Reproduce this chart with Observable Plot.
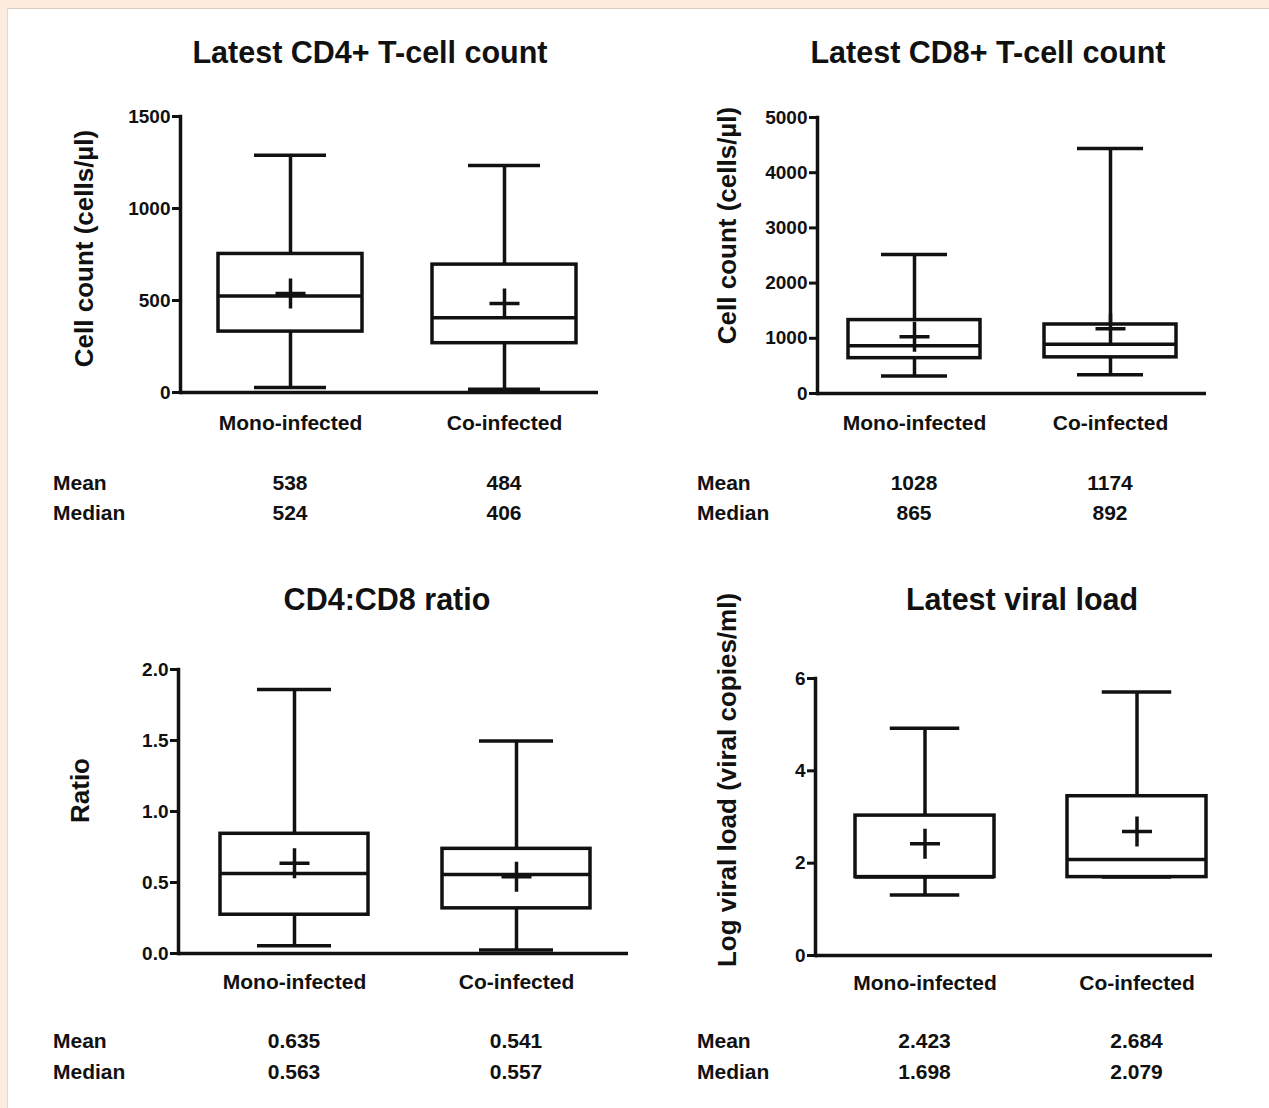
<!DOCTYPE html>
<html><head><meta charset="utf-8">
<script src="https://cdn.jsdelivr.net/npm/d3@7"></script>
<script src="https://cdn.jsdelivr.net/npm/@observablehq/plot@0.6"></script>
<style>
html,body{margin:0;padding:0;}
body{width:1269px;height:1108px;background:#fcece0;position:relative;overflow:hidden;font-family:"Liberation Sans",Arial,Helvetica,sans-serif;}
#sheet{position:absolute;left:7px;top:8px;right:0;bottom:0;background:#fff;border-top:1px solid #d9cbc0;border-left:1px solid #e6d9cf;}
.t{position:absolute;font-weight:bold;color:#111;white-space:nowrap;}
.title{font-size:30.5px;transform:translate(-50%,-50%);}
.val{font-size:21px;transform:translate(-50%,-50%);}
.lab{font-size:21px;transform:translate(0,-50%);}
svg.panel{position:absolute;}
</style></head><body><div id="sheet"></div>
<script>
// ---- data ----
const groups = ["Mono-infected", "Co-infected"];

const cd4Min = [27, 18];
const cd4Q1 = [331, 268];
const cd4Median = [524, 406];
const cd4Q3 = [753, 695];
const cd4Max = [1290, 1234];
const cd4Mean = [538, 484];
const cd4Ticks = [0, 500, 1000, 1500];

const cd8Min = [318, 340];
const cd8Q1 = [640, 655];
const cd8Median = [865, 892];
const cd8Q3 = [1330, 1250];
const cd8Max = [2520, 4440];
const cd8Mean = [1028, 1174];
const cd8Ticks = [0, 1000, 2000, 3000, 4000, 5000];

const ratioMin = [0.054, 0.024];
const ratioQ1 = [0.273, 0.318];
const ratioMedian = [0.563, 0.557];
const ratioQ3 = [0.843, 0.737];
const ratioMax = [1.859, 1.496];
const ratioMean = [0.635, 0.541];
const ratioTicks = [0, 0.5, 1, 1.5, 2];

const vlMin = [1.31, 1.698];
const vlQ1 = [1.698, 1.698];
const vlMedian = [1.698, 2.079];
const vlQ3 = [3.03, 3.45];
const vlMax = [4.92, 5.71];
const vlMean = [2.423, 2.684];
const vlTicks = [0, 2, 4, 6];

const titles = ["Latest CD4+ T-cell count", "Latest CD8+ T-cell count", "CD4:CD8 ratio", "Latest viral load"];
const yLabels = ["Cell count (cells/µl)", "Cell count (cells/µl)", "Ratio", "Log viral load (viral copies/ml)"];
const statLabels = ["Mean", "Median"];

// ---- drawing ----
const INK = "#111";
const SW = 3.5;
const FONT = '"Liberation Sans", Arial, Helvetica, sans-serif';

function addText(cls, txt, x, y) {
  const d = document.createElement("div");
  d.className = "t " + cls;
  d.textContent = txt;
  d.style.left = x + "px";
  d.style.top = y + "px";
  document.body.appendChild(d);
}

function panel(c) {
  const rows = groups.map((g, i) => ({
    group: g, min: c.min[i], q1: c.q1[i], median: c.median[i], q3: c.q3[i], max: c.max[i], mean: c.mean[i]
  }));
  const mL = 140, mT = 16, mR = 10, mB = 50;
  const svgLeft = c.axisX - mL;
  const svgTop = c.yTop - mT;
  const width = c.axisEnd + mR - svgLeft;
  const height = c.yZero + mB - svgTop;
  const step = c.box2R - c.box1L - c.bw;
  const chart = Plot.plot({
    width, height,
    marginLeft: mL, marginRight: mR, marginTop: mT, marginBottom: mB,
    style: {background: "transparent", fontFamily: FONT, color: INK, overflow: "visible"},
    x: {type: "band", domain: groups, range: [c.box1L - svgLeft, c.box2R - svgLeft], paddingInner: 1 - c.bw / step, paddingOuter: 0},
    y: {domain: [c.ticks[0], c.ticks[c.ticks.length - 1]]},
    marks: [
      Plot.ruleX(rows, {x: "group", y1: "min", y2: "max", stroke: INK, strokeWidth: SW}),
      Plot.tickY(rows, {x: "group", y: "min", insetLeft: c.bw / 4, insetRight: c.bw / 4, stroke: INK, strokeWidth: SW}),
      Plot.tickY(rows, {x: "group", y: "max", insetLeft: c.bw / 4, insetRight: c.bw / 4, stroke: INK, strokeWidth: SW}),
      Plot.barY(rows, {x: "group", y1: "q1", y2: "q3", fill: "white", stroke: INK, strokeWidth: SW}),
      Plot.tickY(rows, {x: "group", y: "median", stroke: INK, strokeWidth: SW}),
      Plot.dot(rows, {x: "group", y: "mean", symbol: "plus", r: 9.7, stroke: INK, strokeWidth: SW}),
      Plot.ruleY([c.ticks[0]], {stroke: INK, strokeWidth: SW}),
      Plot.frame({anchor: "left", stroke: INK, strokeWidth: SW}),
      Plot.axisY({ticks: c.ticks, tickFormat: c.fmt, tickSize: 8, tickPadding: 2, fontSize: 19, fontWeight: "bold", strokeWidth: 3, label: null}),
      Plot.axisX({tickSize: 0, tickPadding: c.tickPad, fontSize: 21, fontWeight: "bold", label: null}),
      Plot.text([c.ylabel], {frameAnchor: "left", rotate: -90, textAnchor: "middle", dx: c.labelDx, dy: c.labelDy, fontSize: 26, fontWeight: "bold", fill: INK})
    ]
  });
  chart.classList.add("panel");
  chart.style.left = svgLeft + "px";
  chart.style.top = svgTop + "px";
  document.body.appendChild(chart);

  addText("title", c.title, c.titleX, c.titleY);
  const centers = [c.box1L + c.bw / 2, c.box2R - c.bw / 2];
  addText("lab", statLabels[0], c.statX, c.statY[0]);
  addText("lab", statLabels[1], c.statX, c.statY[1]);
  rows.forEach((r, i) => {
    addText("val", c.sfmt(r.mean), centers[i], c.statY[0]);
    addText("val", c.sfmt(r.median), centers[i], c.statY[1]);
  });
}

const f0 = d3.format("d"), f1 = d3.format(".1f"), f3 = d3.format(".3f");

panel({min: cd4Min, q1: cd4Q1, median: cd4Median, q3: cd4Q3, max: cd4Max, mean: cd4Mean, ticks: cd4Ticks,
  fmt: f0, sfmt: f0, title: titles[0], ylabel: yLabels[0],
  axisX: 180, axisEnd: 598, yTop: 116, yZero: 392, box1L: 218, box2R: 576, bw: 144,
  tickPad: 23, labelDx: -96, labelDy: -6, titleX: 370, titleY: 52, statX: 53, statY: [483, 513]});

panel({min: cd8Min, q1: cd8Q1, median: cd8Median, q3: cd8Q3, max: cd8Max, mean: cd8Mean, ticks: cd8Ticks,
  fmt: f0, sfmt: f0, title: titles[1], ylabel: yLabels[1],
  axisX: 817, axisEnd: 1206, yTop: 117, yZero: 393, box1L: 848, box2R: 1176, bw: 132,
  tickPad: 22, labelDx: -90, labelDy: -30, titleX: 988, titleY: 52, statX: 697, statY: [483, 513]});

panel({min: ratioMin, q1: ratioQ1, median: ratioMedian, q3: ratioQ3, max: ratioMax, mean: ratioMean, ticks: ratioTicks,
  fmt: f1, sfmt: f3, title: titles[2], ylabel: yLabels[2],
  axisX: 178, axisEnd: 628, yTop: 669, yZero: 953, box1L: 220, box2R: 590, bw: 148,
  tickPad: 21, labelDx: -98, labelDy: -21, titleX: 387, titleY: 599, statX: 53, statY: [1041, 1072]});

panel({min: vlMin, q1: vlQ1, median: vlMedian, q3: vlQ3, max: vlMax, mean: vlMean, ticks: vlTicks,
  fmt: f0, sfmt: f3, title: titles[3], ylabel: yLabels[3],
  axisX: 815, axisEnd: 1212, yTop: 678, yZero: 955, box1L: 855, box2R: 1206, bw: 139,
  tickPad: 20, labelDx: -88, labelDy: -37, titleX: 1022, titleY: 599, statX: 697, statY: [1041, 1072]});
</script></body></html>
